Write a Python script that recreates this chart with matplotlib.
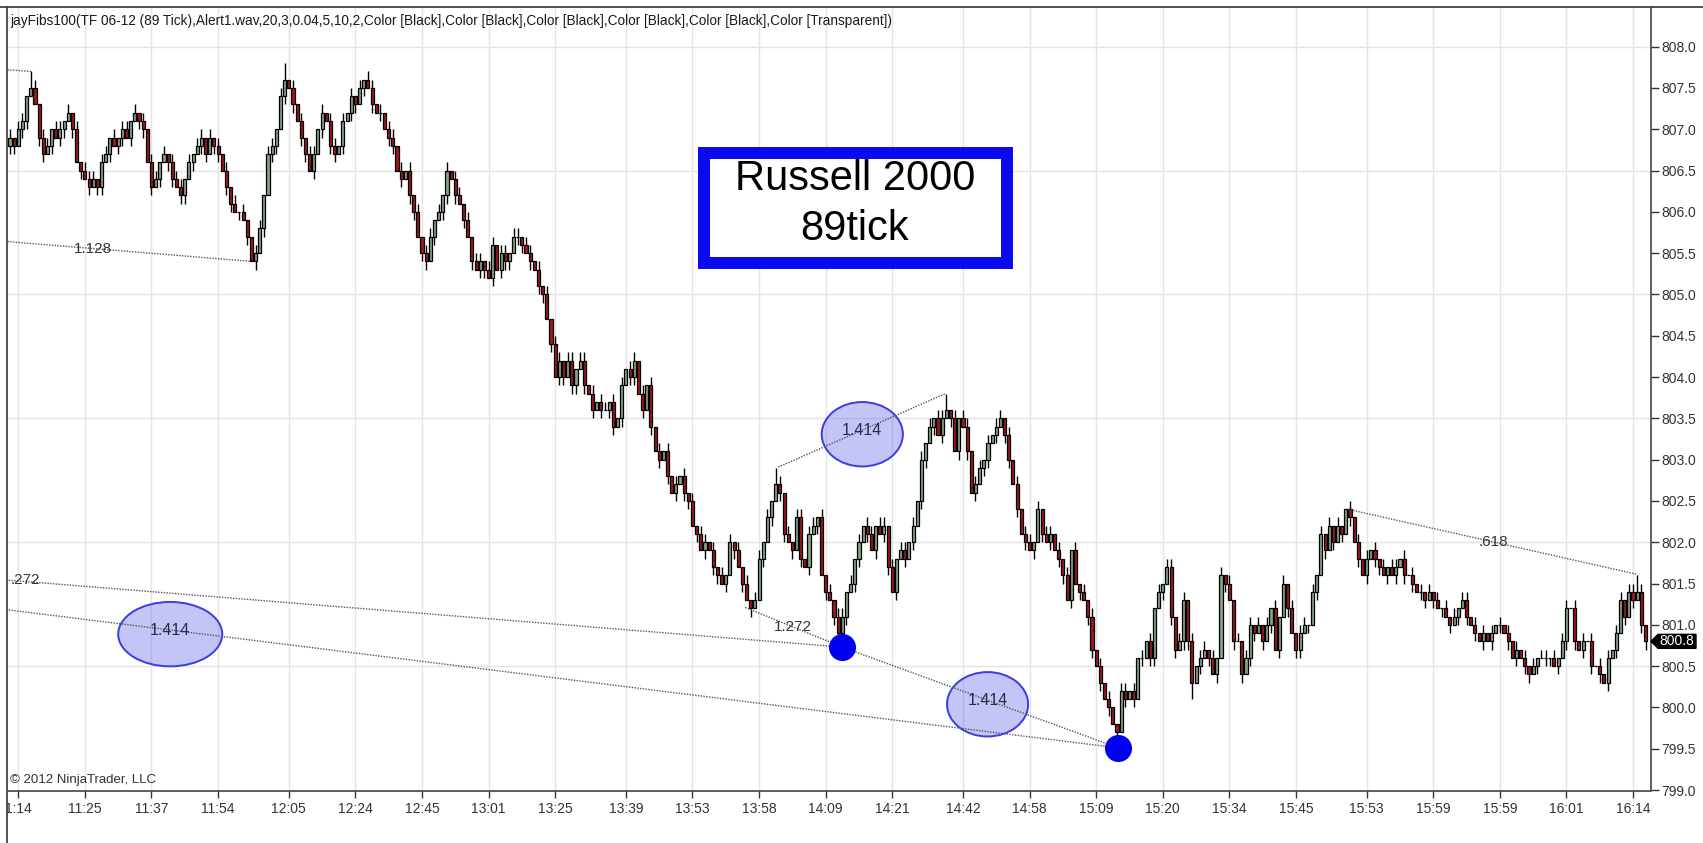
"""NinjaTrader style 89 tick chart of the Russell 2000 (TF 06-12) with jayFibs lines."""

import matplotlib
matplotlib.use("Agg")
import matplotlib.pyplot as plt
from matplotlib.patches import Ellipse, Rectangle, Polygon
from matplotlib.lines import Line2D
import numpy as np

# closing price of every 89 tick bar, left to right
closes = [
    806.9, 806.8, 807.0, 807.1, 807.4, 807.5, 807.3, 806.9, 806.7, 806.8,
    807.0, 806.9, 807.0, 807.1, 807.2, 807.0, 806.6, 806.5, 806.4, 806.3,
    806.4, 806.3, 806.6, 806.7, 806.9, 806.8, 806.9, 807.0, 806.9, 807.1,
    807.2, 807.1, 807.0, 806.6, 806.3, 806.4, 806.6, 806.7, 806.6, 806.4,
    806.3, 806.2, 806.4, 806.6, 806.7, 806.8, 806.9, 806.7, 806.9, 806.8,
    806.7, 806.5, 806.3, 806.1, 806.0, 806.0, 805.9, 805.7, 805.4, 805.5,
    805.8, 806.2, 806.7, 806.8, 807.0, 807.4, 807.6, 807.5, 807.3, 807.1,
    806.9, 806.7, 806.5, 806.7, 807.0, 807.2, 807.1, 806.8, 806.7, 806.8,
    807.1, 807.2, 807.4, 807.3, 807.5, 807.6, 807.5, 807.3, 807.2, 807.2,
    807.0, 806.9, 806.8, 806.5, 806.4, 806.5, 806.2, 806.0, 805.7, 805.5,
    805.4, 805.7, 805.9, 806.0, 806.2, 806.5, 806.4, 806.2, 806.1, 805.9,
    805.7, 805.4, 805.3, 805.4, 805.3, 805.2, 805.6, 805.3, 805.5, 805.4,
    805.5, 805.7, 805.7, 805.6, 805.5, 805.4, 805.3, 805.1, 805.0, 804.7,
    804.4, 804.0, 804.2, 804.0, 804.2, 803.9, 804.1, 804.2, 803.9, 803.8,
    803.6, 803.7, 803.6, 803.6, 803.7, 803.4, 803.5, 803.9, 804.1, 804.0,
    804.2, 803.8, 803.6, 803.9, 803.4, 803.1, 803.0, 803.1, 802.8, 802.6,
    802.7, 802.8, 802.6, 802.5, 802.2, 802.1, 801.9, 802.0, 801.9, 801.7,
    801.6, 801.5, 801.6, 802.0, 801.9, 801.7, 801.5, 801.3, 801.2, 801.3,
    801.8, 802.0, 802.3, 802.5, 802.7, 802.6, 802.1, 802.0, 801.9, 802.3,
    801.8, 801.7, 802.1, 802.2, 802.3, 801.6, 801.4, 801.3, 801.1, 800.9,
    801.1, 801.4, 801.5, 801.8, 802.0, 802.2, 802.1, 801.9, 802.2, 802.1,
    802.2, 801.7, 801.4, 801.8, 801.9, 801.8, 802.0, 802.2, 802.5, 803.0,
    803.2, 803.4, 803.5, 803.3, 803.5, 803.6, 803.5, 803.1, 803.5, 803.4,
    803.1, 802.6, 802.7, 802.9, 803.0, 803.2, 803.3, 803.4, 803.5, 803.3,
    803.0, 802.7, 802.4, 802.1, 802.0, 801.9, 802.0, 802.4, 802.1, 802.0,
    802.1, 801.9, 801.8, 801.6, 801.3, 801.9, 801.5, 801.4, 801.3, 801.1,
    800.7, 800.5, 800.3, 800.1, 800.0, 799.8, 799.7, 800.2, 800.1, 800.2,
    800.1, 800.6, 800.6, 800.8, 800.6, 801.2, 801.4, 801.5, 801.7, 801.1,
    800.7, 800.8, 801.3, 800.8, 800.3, 800.5, 800.6, 800.7, 800.6, 800.4,
    800.6, 801.6, 801.5, 801.3, 800.8, 800.8, 800.4, 800.6, 801.0, 800.9,
    801.0, 800.8, 801.0, 801.2, 800.7, 801.1, 801.5, 801.2, 800.9, 800.7,
    800.9, 801.0, 801.0, 801.4, 801.6, 802.1, 801.9, 802.2, 802.0, 802.2,
    802.1, 802.4, 802.3, 802.0, 801.8, 801.6, 801.8, 801.9, 801.8, 801.7,
    801.6, 801.7, 801.6, 801.7, 801.8, 801.6, 801.6, 801.5, 801.4, 801.4,
    801.3, 801.4, 801.3, 801.2, 801.2, 801.1, 801.0, 801.1, 801.2, 801.3,
    801.1, 801.0, 800.9, 800.8, 800.9, 800.8, 800.9, 801.0, 801.0, 800.9,
    800.8, 800.6, 800.7, 800.6, 800.5, 800.4, 800.5, 800.6, 800.6, 800.6,
    800.6, 800.5, 800.6, 800.8, 801.2, 801.2, 800.8, 800.7, 800.8, 800.8,
    800.5, 800.5, 800.4, 800.3, 800.6, 800.7, 800.9, 801.3, 801.1, 801.4,
    801.3, 801.4, 801.0, 800.8,
]
first_open = 806.8

# wick beyond the body, in ticks of 0.1
up_wick = [
    1, 0, 1, 1, 0, 2, 1, 0, 1, 1,  0, 1, 1, 0, 1, 0, 1, 0, 1, 1,
    1, 0, 1, 1, 0, 1, 0, 1, 1, 0,  1, 0, 1, 0, 1, 1, 0, 1, 0, 1,
    1, 1, 0, 1, 0, 1, 1, 0, 1, 0,  1, 0, 1, 0, 1, 0, 1, 0, 0, 1,
    1, 0, 1, 1, 0, 1, 2, 0, 1, 0,  1, 0, 1, 1, 0, 1, 0, 1, 1, 0,
    1, 0, 1, 0, 1, 0, 1, 1, 0, 1,  0, 1, 1, 0, 1, 0, 1, 0, 1, 0,
    1, 1, 0, 1, 0, 1, 0, 1, 1, 0,  1, 0, 1, 1, 0, 1, 1, 0, 1, 1,
    0, 1, 1, 0, 1, 1, 0, 1, 0, 1,  0, 1, 1, 0, 1, 1, 0, 1, 1, 0,
    1, 0, 1, 1, 0, 1, 0, 1, 0, 1,  1, 0, 1, 0, 1, 0, 1, 0, 1, 0,
    1, 0, 1, 0, 1, 0, 1, 1, 0, 1,  0, 1, 0, 1, 0, 1, 0, 1, 0, 1,
    1, 0, 1, 0, 2, 1, 0, 1, 0, 1,  1, 0, 1, 1, 0, 1, 0, 1, 0, 1,
    1, 0, 1, 0, 1, 0, 1, 1, 0, 1,  1, 0, 1, 0, 1, 1, 0, 1, 0, 1,
    0, 1, 0, 1, 1, 2, 0, 1, 0, 1,  1, 0, 1, 1, 0, 1, 0, 1, 1, 0,
    1, 0, 1, 0, 1, 1, 0, 1, 0, 1,  1, 0, 1, 0, 1, 0, 1, 0, 1, 0,
    1, 0, 1, 0, 1, 0, 0, 1, 1, 0,  1, 0, 1, 0, 1, 0, 1, 0, 1, 1,
    0, 1, 1, 0, 1, 0, 1, 1, 0, 1,  0, 1, 0, 1, 0, 1, 0, 1, 1, 0,
    1, 0, 1, 0, 1, 0, 1, 0, 1, 0,  1, 1, 0, 1, 0, 1, 0, 1, 0, 1,
    0, 0, 1, 0, 1, 0, 1, 0, 1, 0,  1, 0, 1, 1, 0, 1, 0, 1, 0, 1,
    0, 1, 0, 1, 0, 1, 0, 1, 0, 1,  1, 0, 1, 0, 1, 0, 1, 0, 1, 0,
    1, 0, 1, 0, 1, 0, 1, 0, 1, 1,  0, 1, 0, 1, 1, 0, 1, 0, 1, 0,
    1, 0, 1, 0, 1, 0, 1, 1, 0, 1,  1, 2, 1, 0,
]
dn_wick = [
    1, 1, 0, 1, 1, 0, 0, 1, 1, 0,  1, 0, 1, 1, 0, 1, 0, 1, 0, 1,
    0, 1, 1, 0, 1, 0, 1, 1, 0, 1,  0, 1, 1, 0, 1, 0, 1, 0, 1, 1,
    0, 1, 1, 0, 1, 0, 1, 1, 0, 1,  1, 0, 1, 1, 0, 1, 0, 1, 0, 1,
    0, 1, 0, 1, 1, 0, 1, 0, 1, 0,  1, 1, 0, 1, 0, 1, 0, 1, 1, 0,
    1, 0, 1, 1, 0, 1, 0, 1, 0, 1,  0, 1, 1, 0, 1, 0, 1, 1, 0, 1,
    1, 0, 1, 0, 1, 1, 0, 1, 0, 1,  0, 1, 0, 1, 1, 0, 1, 0, 1, 1,
    1, 0, 1, 1, 0, 1, 0, 1, 1, 0,  1, 0, 1, 1, 0, 1, 1, 0, 1, 0,
    1, 0, 1, 0, 1, 1, 0, 1, 0, 1,  1, 0, 1, 0, 1, 0, 1, 0, 1, 0,
    1, 0, 1, 1, 0, 1, 0, 1, 0, 1,  1, 0, 1, 0, 1, 0, 1, 0, 1, 0,
    0, 1, 0, 1, 0, 1, 1, 0, 1, 0,  1, 0, 1, 0, 1, 0, 1, 0, 1, 1,
    0, 1, 0, 1, 1, 0, 1, 0, 1, 0,  1, 1, 0, 1, 0, 1, 0, 1, 0, 1,
    1, 0, 1, 0, 1, 0, 1, 0, 1, 0,  1, 0, 1, 0, 1, 1, 0, 1, 0, 1,
    1, 0, 1, 0, 1, 0, 1, 0, 1, 0,  1, 0, 1, 1, 0, 1, 0, 1, 0, 1,
    1, 0, 1, 0, 1, 0, 1, 0, 1, 0,  1, 0, 1, 0, 1, 1, 0, 1, 0, 1,
    1, 0, 1, 1, 2, 0, 1, 0, 1, 0,  1, 0, 1, 0, 1, 0, 1, 0, 1, 1,
    0, 1, 0, 1, 0, 1, 0, 1, 0, 1,  1, 0, 1, 0, 1, 0, 1, 0, 1, 0,
    1, 0, 1, 0, 1, 0, 1, 0, 1, 1,  0, 1, 0, 1, 0, 1, 0, 1, 0, 1,
    1, 0, 1, 0, 1, 0, 1, 0, 1, 0,  1, 0, 1, 0, 1, 0, 1, 0, 1, 0,
    1, 0, 1, 0, 1, 1, 0, 1, 0, 1,  1, 0, 1, 0, 1, 0, 1, 0, 1, 0,
    1, 0, 1, 0, 1, 0, 1, 0, 1, 0,  1, 0, 1, 1,
]

time_labels = ["1:14", "11:25", "11:37", "11:54", "12:05", "12:24", "12:45",
               "13:01", "13:25", "13:39", "13:53", "13:58", "14:09", "14:21",
               "14:42", "14:58", "15:09", "15:20", "15:34", "15:45", "15:53",
               "15:59", "15:59", "16:01", "16:14"]
tick_bars = [2, 18, 34, 50, 67, 83, 99, 115, 131, 148, 164, 180, 196, 212,
             229, 245, 261, 277, 293, 309, 326, 342, 358, 374, 390]

# jayFibs swing lines: start bar/price, end bar/price, label, label bar
fib_bar0 = [-0.6, -0.6, -0.3, -0.3, 176.7, 200.0, 184.6, 321.4]
fib_px0 = [807.72, 805.64, 801.54, 801.18, 801.21, 800.73, 802.91, 802.40]
fib_bar1 = [5.0, 58.0, 200.0, 266.3, 200.0, 266.3, 224.8, 391.1]
fib_px1 = [807.70, 805.40, 800.73, 799.51, 800.73, 799.51, 803.80, 801.61]
fib_text = ["", "1.128", ".272", "1.414", "1.272", "1.414", "1.414", ".618"]
fib_text_bar = [0, 20, 0.2, 38.5, 188, 234.9, 204.8, 356.5]
fib_circled = [False, False, False, True, False, True, True, False]

dot_bars = [200.0, 266.3]
dot_px = [800.73, 799.51]
last_price = 800.8

W, H = 1703, 843


def px(x, y):
    """pixel position (from top-left) to figure fraction"""
    return x / W, 1 - y / H


def main():
    c = np.array(closes)
    assert len(c) == len(up_wick) == len(dn_wick)
    o = np.concatenate([[first_open], c[:-1]])
    hi = np.maximum(o, c) + np.array(up_wick) * 0.1
    lo = np.minimum(o, c) - np.array(dn_wick) * 0.1
    x = np.arange(len(c))

    plt.rcParams["font.family"] = ["Liberation Sans", "DejaVu Sans"]
    fig = plt.figure(figsize=(W / 100, H / 100), dpi=100)
    fig.patch.set_facecolor("white")
    l, b = px(8, 790.5)
    r, t = px(1650.5, 7)
    ax = fig.add_axes([l, b, r - l, t - b])
    ax.set_xlim(-0.48, 394.2)
    ax.set_ylim(798.994, 808.48)

    # grid
    for tb in tick_bars:
        ax.axvline(tb, color="#e4e4e4", lw=1, zorder=0)
    for gy in np.arange(800.5, 808.01, 1.5):
        ax.axhline(gy, color="#e4e4e4", lw=1, zorder=0)

    # candles
    ax.vlines(x, lo, hi, color="black", lw=1.0, zorder=2)
    up = c >= o
    ax.bar(x[up], (c - o)[up], bottom=o[up], width=0.74, color="#84a284",
           edgecolor="black", linewidth=0.9, zorder=3)
    ax.bar(x[~up], (c - o)[~up], bottom=o[~up], width=0.74, color="#a0181c",
           edgecolor="black", linewidth=0.9, zorder=3)

    # fib lines and labels
    for i in range(len(fib_bar0)):
        xs = [fib_bar0[i], fib_bar1[i]]
        ys = [fib_px0[i], fib_px1[i]]
        ax.plot(xs, ys, color="#555555", lw=1.0, ls=(0, (1, 1)), zorder=5)
        if not fib_text[i]:
            continue
        tx = fib_text_bar[i]
        ty = np.interp(tx, xs, ys)
        if fib_circled[i]:
            w = 25 if tx < 100 else 19.5
            ax.add_patch(Ellipse((tx, ty - 0.05), w, 0.78,
                                 fc=(0.45, 0.45, 0.93, 0.42),
                                 ec="#3c3ce0", lw=1.4, zorder=4))
            ax.text(tx, ty, fib_text[i], ha="center", va="center", fontsize=11.5,
                    color="#2a2a4a", zorder=6)
        else:
            ax.text(tx, ty, fib_text[i], ha="left" if tx < 5 else "center",
                    va="center", fontsize=11, color="#333333", zorder=6)

    ax.scatter(dot_bars, dot_px, s=380, color="#0000ee", zorder=7, lw=0)

    # axes
    ax.yaxis.tick_right()
    ax.set_yticks(np.arange(799.0, 808.01, 0.5))
    ax.set_yticklabels([f"{v:.1f}" for v in np.arange(799.0, 808.01, 0.5)])
    ax.set_xticks(tick_bars)
    ax.set_xticklabels(time_labels)
    ax.tick_params(axis="y", direction="out", length=6, width=1, pad=2,
                   labelsize=10, colors="#333333")
    ax.tick_params(axis="x", direction="out", length=5, width=1, pad=3,
                   labelsize=10, colors="#333333")
    for s in ("left", "top"):
        ax.spines[s].set_visible(False)
    for s in ("right", "bottom"):
        ax.spines[s].set_color("#444444")
        ax.spines[s].set_linewidth(1.2)

    # frame of the chart window
    fig.add_artist(Line2D([0, 1], [px(0, 7)[1]] * 2, color="#444444", lw=1.3))
    fig.add_artist(Line2D([px(7, 0)[0]] * 2, [0, px(0, 7)[1]], color="#444444", lw=1.3))

    # last price marker
    yd = ax.transData.transform((0, last_price))[1]
    yt = H - yd
    pts = [px(1651, yt), px(1658, yt - 7), px(1696, yt - 7), px(1696, yt + 7), px(1658, yt + 7)]
    fig.add_artist(Polygon(pts, closed=True, fc="black", ec="black", transform=fig.transFigure))
    fig.text(*px(1677, yt), f"{last_price:.1f}", ha="center", va="center",
             fontsize=10, color="white")

    # texts
    fig.text(*px(10, 21), "jayFibs100(TF 06-12 (89 Tick),Alert1.wav,20,3,0.04,5,10,2,"
             "Color [Black],Color [Black],Color [Black],Color [Black],Color [Black],"
             "Color [Transparent])", ha="left", va="center", fontsize=9.8, color="#1a1a1a")
    fig.text(*px(10, 780), "\u00a9 2012 NinjaTrader, LLC", ha="left", va="center",
             fontsize=9.5, color="#333333")

    # title box
    x0, y0 = px(704, 263)
    x1, y1 = px(1007, 153)
    fig.add_artist(Rectangle((x0, y0), x1 - x0, y1 - y0, transform=fig.transFigure,
                             fc="white", ec="#0a0aee", lw=8.6, zorder=10))
    fig.text(*px(855, 179), "Russell 2000", ha="center", va="center",
             fontsize=30, color="black", zorder=11)
    fig.text(*px(855, 229), "89tick", ha="center", va="center",
             fontsize=30, color="black", zorder=11)

    fig.savefig("out.png", dpi=100, facecolor="white")


if __name__ == "__main__":
    main()
